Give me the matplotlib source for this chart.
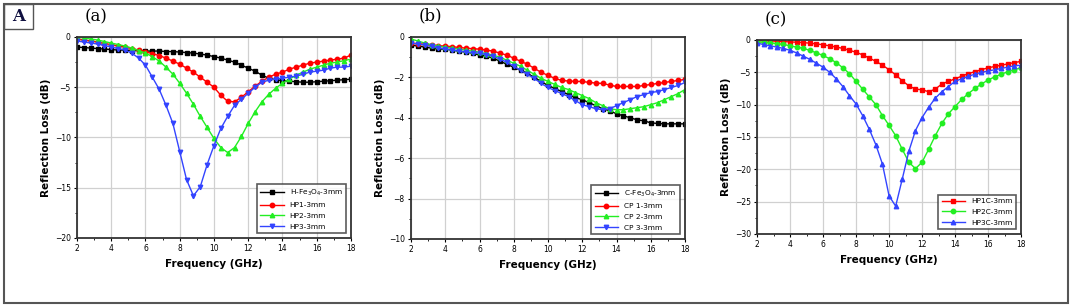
import matplotlib.pyplot as plt
from matplotlib.patches import Rectangle
import numpy as np

# frequency grid (GHz), 0.4 GHz step
freq = [2.0, 2.4, 2.8, 3.2, 3.6, 4.0, 4.4, 4.8, 5.2, 5.6, 6.0, 6.4, 6.8, 7.2, 7.6, 8.0,
        8.4, 8.8, 9.2, 9.6, 10.0, 10.4, 10.8, 11.2, 11.6, 12.0, 12.4, 12.8, 13.2, 13.6,
        14.0, 14.4, 14.8, 15.2, 15.6, 16.0, 16.4, 16.8, 17.2, 17.6, 18.0]

# panel (a)
h_fe3o4 = [-1.0, -1.05, -1.1, -1.15, -1.2, -1.25, -1.3, -1.3, -1.35, -1.35, -1.4, -1.4, -1.4,
           -1.45, -1.45, -1.5, -1.55, -1.6, -1.7, -1.8, -1.95, -2.1, -2.3, -2.5, -2.8, -3.1,
           -3.4, -3.8, -4.1, -4.25, -4.35, -4.4, -4.45, -4.5, -4.5, -4.45, -4.4, -4.35, -4.3,
           -4.25, -4.2]
hp1 = [-0.2, -0.3, -0.4, -0.5, -0.65, -0.75, -0.9, -1.0, -1.15, -1.3, -1.45, -1.65, -1.85,
       -2.1, -2.4, -2.7, -3.1, -3.5, -4.0, -4.5, -5.0, -5.8, -6.4, -6.45, -6.0, -5.45, -4.9,
       -4.4, -4.0, -3.7, -3.5, -3.2, -3.0, -2.8, -2.6, -2.5, -2.4, -2.3, -2.2, -2.1, -1.8]
hp2 = [0.0, -0.1, -0.2, -0.3, -0.45, -0.6, -0.75, -0.9, -1.1, -1.35, -1.6, -1.95, -2.4, -3.0,
       -3.7, -4.6, -5.6, -6.7, -7.9, -9.0, -10.1, -11.0, -11.5, -11.0, -9.9, -8.6, -7.45,
       -6.45, -5.7, -5.1, -4.6, -4.2, -3.8, -3.5, -3.2, -3.0, -2.8, -2.6, -2.5, -2.35, -2.2]
hp3 = [-0.4, -0.5, -0.6, -0.7, -0.85, -1.0, -1.15, -1.3, -1.6, -2.1, -2.8, -4.0, -5.2, -6.8,
       -8.6, -11.4, -14.2, -15.8, -14.9, -12.7, -10.8, -9.1, -7.9, -6.8, -6.2, -5.6, -5.0,
       -4.5, -4.3, -4.2, -4.1, -4.0, -3.9, -3.7, -3.5, -3.4, -3.3, -3.1, -3.0, -3.0, -2.9]

# panel (b)
c_fe3o4 = [-0.4, -0.45, -0.5, -0.55, -0.6, -0.6, -0.65, -0.7, -0.75, -0.8, -0.9, -0.95, -1.05,
           -1.2, -1.35, -1.5, -1.65, -1.8, -2.0, -2.2, -2.4, -2.55, -2.7, -2.85, -3.0, -3.1,
           -3.25, -3.4, -3.55, -3.65, -3.8, -3.9, -4.0, -4.1, -4.15, -4.25, -4.28, -4.3, -4.3,
           -4.3, -4.3]
cp1 = [-0.3, -0.33, -0.36, -0.4, -0.43, -0.45, -0.48, -0.52, -0.55, -0.58, -0.6, -0.65, -0.7,
       -0.8, -0.9, -1.05, -1.2, -1.35, -1.55, -1.75, -1.9, -2.05, -2.15, -2.18, -2.2, -2.2,
       -2.25, -2.28, -2.3, -2.38, -2.45, -2.45, -2.45, -2.45, -2.4, -2.35, -2.3, -2.25, -2.2,
       -2.15, -2.1]
cp2 = [-0.1, -0.2, -0.3, -0.38, -0.45, -0.5, -0.55, -0.6, -0.65, -0.7, -0.75, -0.82, -0.9,
       -1.0, -1.15, -1.3, -1.45, -1.65, -1.85, -2.05, -2.2, -2.35, -2.5, -2.6, -2.75, -2.9,
       -3.05, -3.25, -3.4, -3.55, -3.6, -3.6, -3.55, -3.5, -3.45, -3.35, -3.25, -3.1, -2.95,
       -2.8, -2.6]
cp3 = [-0.3, -0.35, -0.4, -0.47, -0.55, -0.6, -0.65, -0.7, -0.75, -0.78, -0.8, -0.88, -0.95,
       -1.1, -1.25, -1.45, -1.65, -1.85, -2.05, -2.3, -2.5, -2.65, -2.8, -2.95, -3.15, -3.35,
       -3.45, -3.55, -3.6, -3.55, -3.4, -3.25, -3.1, -2.95, -2.85, -2.75, -2.7, -2.6, -2.5,
       -2.4, -2.25]

# panel (c)
hp1c = [-0.1, -0.1, -0.15, -0.2, -0.25, -0.3, -0.35, -0.4, -0.5, -0.6, -0.75, -0.9, -1.1,
        -1.3, -1.6, -1.9, -2.3, -2.8, -3.3, -3.9, -4.6, -5.4, -6.3, -7.1, -7.6, -7.7, -8.0,
        -7.6, -6.8, -6.4, -6.0, -5.6, -5.2, -4.9, -4.6, -4.3, -4.1, -3.9, -3.7, -3.5, -3.3]
hp2c = [-0.3, -0.35, -0.45, -0.55, -0.7, -0.9, -1.1, -1.3, -1.6, -2.0, -2.4, -2.9, -3.5, -4.3,
        -5.2, -6.4, -7.6, -8.8, -10.0, -11.7, -13.2, -14.8, -16.9, -18.9, -19.9, -18.9, -16.9,
        -14.8, -12.9, -11.4, -10.3, -9.2, -8.3, -7.5, -6.8, -6.2, -5.7, -5.3, -4.9, -4.6, -4.3]
hp3c = [-0.5, -0.7, -0.9, -1.1, -1.3, -1.6, -2.0, -2.5, -3.0, -3.6, -4.2, -5.0, -6.0, -7.2,
        -8.6, -9.9, -11.7, -13.8, -16.2, -19.2, -24.1, -25.7, -21.5, -17.2, -14.0, -12.0,
        -10.4, -9.0, -8.0, -7.2, -6.4, -6.0, -5.6, -5.3, -5.0, -4.8, -4.6, -4.4, -4.2, -4.0,
        -3.9]

GREEN = '#22ee22'
BLUE = '#3344ff'

panels = [
    dict(pos=[0.0718, 0.2248, 0.2556, 0.6547], tag='(a)', ylim=(-20, 0), ystep=5,
         series=[(h_fe3o4, 'H-Fe$_3$O$_4$-3mm', 'black', 's'),
                 (hp1, 'HP1-3mm', 'red', 'o'),
                 (hp2, 'HP2-3mm', GREEN, '^'),
                 (hp3, 'HP3-3mm', BLUE, 'v')]),
    dict(pos=[0.3834, 0.2215, 0.2556, 0.658], tag='(b)', ylim=(-10, 0), ystep=2,
         series=[(c_fe3o4, 'C-Fe$_3$O$_4$-3mm', 'black', 's'),
                 (cp1, 'CP 1-3mm', 'red', 'o'),
                 (cp2, 'CP 2-3mm', GREEN, '^'),
                 (cp3, 'CP 3-3mm', BLUE, 'v')]),
    dict(pos=[0.7062, 0.2378, 0.2463, 0.632], tag='(c)', ylim=(-30, 0), ystep=5,
         series=[(hp1c, 'HP1C-3mm', 'red', 's'),
                 (hp2c, 'HP2C-3mm', GREEN, 'o'),
                 (hp3c, 'HP3C-3mm', BLUE, '^')]),
]

fig = plt.figure(figsize=(10.72, 3.07), dpi=100)

# outer frame and the "A" tag box
fig.patches.append(Rectangle((0.004, 0.012), 0.992, 0.975, transform=fig.transFigure,
                             fill=False, edgecolor='#555555', linewidth=1.5))
fig.patches.append(Rectangle((0.004, 0.905), 0.027, 0.082, transform=fig.transFigure,
                             fill=False, edgecolor='#555555', linewidth=1.0))
fig.text(0.017, 0.945, 'A', fontsize=12, fontweight='bold', family='DejaVu Serif',
         ha='center', va='center', color='#101040')

for p in panels:
    ax = fig.add_axes(p['pos'])
    for vals, lab, col, mk in p['series']:
        ax.plot(freq, vals, color=col, marker=mk, markersize=3.2, linewidth=1.0, label=lab)
    ax.set_xlim(2, 18)
    ax.set_ylim(*p['ylim'])
    ax.set_xticks(np.arange(2, 19, 2))
    ax.set_xticks(np.arange(3, 18, 2), minor=True)
    ax.set_yticks(np.arange(p['ylim'][0], 0.1, p['ystep']))
    ax.set_yticks(np.arange(p['ylim'][0] + p['ystep'] / 2, 0, p['ystep']), minor=True)
    ax.grid(True, which='major', color='#d0d0d0', linewidth=0.9)
    ax.tick_params(which='major', labelsize=5.5, length=2.5, width=0.8, pad=2)
    ax.tick_params(which='minor', length=1.5, width=0.6)
    for s in ax.spines.values():
        s.set_linewidth(1.3)
        s.set_color('#333333')
    ax.set_xlabel('Frequency (GHz)', fontsize=7.5, fontweight='bold', labelpad=4)
    ax.set_ylabel('Reflection Loss (dB)', fontsize=7.5, fontweight='bold', labelpad=3)
    ax.text(0.07, 1.06, p['tag'], transform=ax.transAxes, fontsize=12,
            family='DejaVu Serif', ha='center', va='bottom')
    leg = ax.legend(loc='lower right', fontsize=5.3, frameon=True, fancybox=False,
                    edgecolor='#333333', borderpad=0.45, labelspacing=0.6,
                    handlelength=3.2, borderaxespad=0.7)
    leg.get_frame().set_linewidth(1.2)

plt.savefig('out.png', dpi=100)
